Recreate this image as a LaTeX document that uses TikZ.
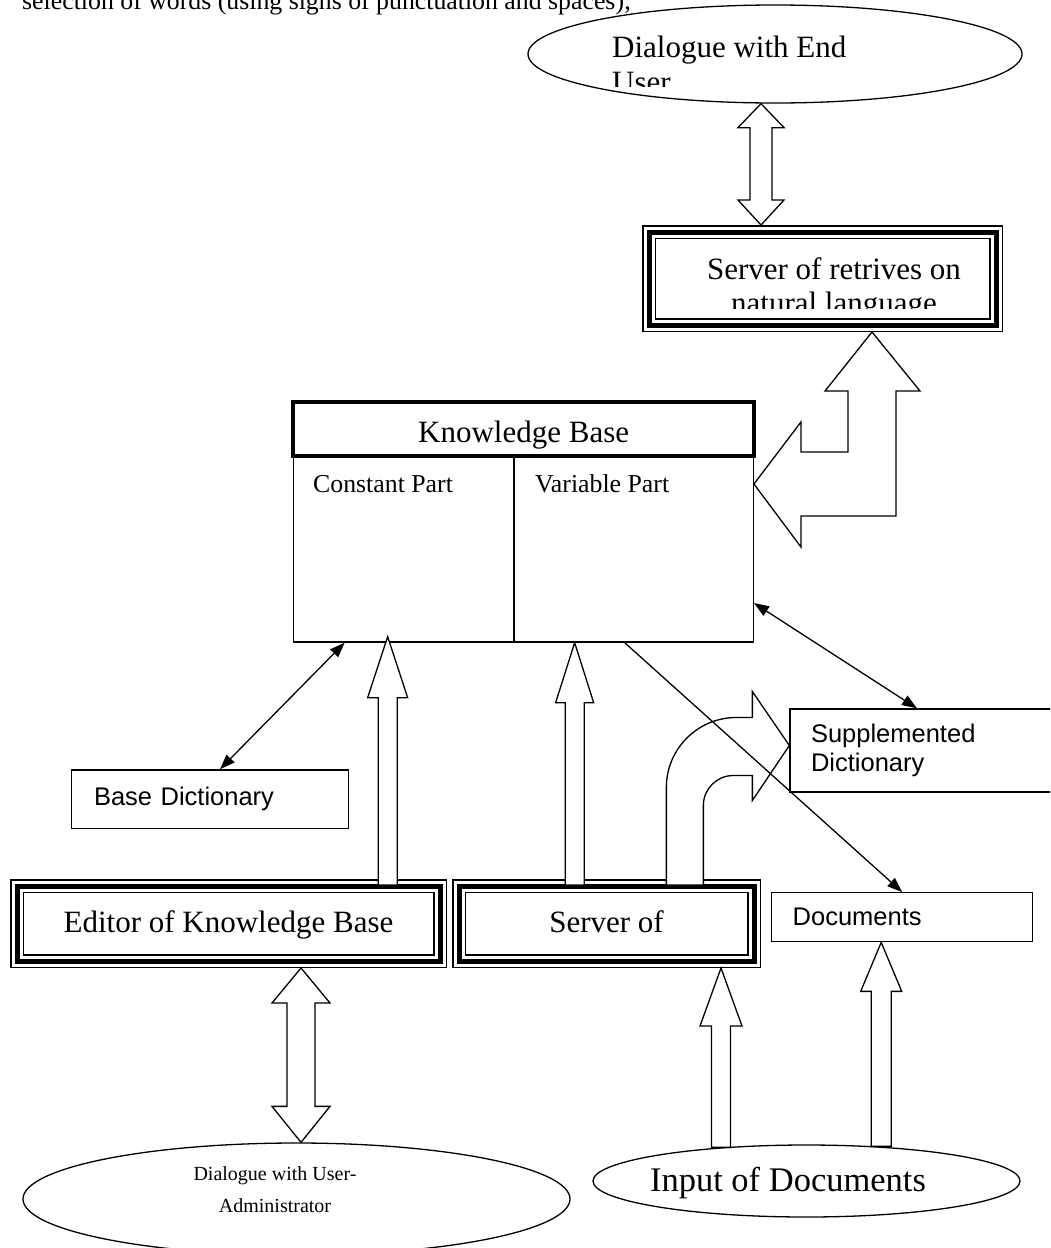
\documentclass[tikz,border=0pt]{standalone}
\usepackage{fontspec}
\setmainfont{Liberation Serif}
\newfontfamily\arialfont{Liberation Sans}
\usetikzlibrary{shapes, calc, arrows.meta}

\tikzset{
  bigtxt/.style={font=\fontsize{31}{35}\selectfont, inner sep=0pt},
  inputtxt/.style={font=\fontsize{34.5}{39}\selectfont, inner sep=0pt},
  midtxt/.style={font=\fontsize{25.8}{30}\selectfont, inner sep=0pt},
  admintxt/.style={font=\fontsize{20}{24}\selectfont, inner sep=0pt},
  sanstxt/.style={font=\arialfont\fontsize{25.5}{29}\selectfont},
  wire/.style={line width=1.3pt},
  frame/.style={draw, wire, rectangle, inner sep=0pt},
  triple/.style={draw, rectangle, line width=5pt, outer sep=7pt, inner sep=0pt,
    preaction={draw, line width=1.5pt, double, double distance=11pt}},
  oval/.style={draw, wire, ellipse, inner sep=0pt},
  hollow/.style={draw, wire, fill=white, line join=miter},
  link/.style={wire, {Triangle[length=15pt,width=11pt]}-{Triangle[length=15pt,width=11pt]}},
  onelink/.style={wire, -{Triangle[length=15pt,width=11pt]}}
}

\newcommand{\blockup}[5]{%
  \draw[hollow] let \p1=#1, \p2=#2 in
    (\x2-#3,\y1) -- (\x2-#3,\y2-#5) -- (\x2-#4,\y2-#5) -- (\x2,\y2)
    -- (\x2+#4,\y2-#5) -- (\x2+#3,\y2-#5) -- (\x2+#3,\y1) -- cycle;}
\newcommand{\blockboth}[6]{%
  \draw[hollow] let \p1=#1, \p2=#2 in
    (\x1,\y1) -- (\x1+#4,\y1-#5) -- (\x1+#3,\y1-#5) -- (\x1+#3,\y2+#6)
    -- (\x1+#4,\y2+#6) -- (\x1,\y2) -- (\x1-#4,\y2+#6) -- (\x1-#3,\y2+#6)
    -- (\x1-#3,\y1-#5) -- (\x1-#4,\y1-#5) -- cycle;}

\begin{document}
\begin{tikzpicture}[x=1pt, y=-1pt]
\useasboundingbox (0,0) rectangle (1050,1248);
\clip (0,0) rectangle (1050,1248);

\node[midtxt, anchor=base west] (toptxt) at (22,9) {selection of words (using signs of punctuation and spaces);};

\node[oval, minimum width=494pt, minimum height=98pt] (enduser) at (775,54) {};
\begin{scope}
\clip (600,20) rectangle (960,86);
\node[bigtxt, anchor=base west] (enduser1) at (612,57) {Dialogue with End};
\node[bigtxt, anchor=base west] (enduser2) at (612,92) {User};
\end{scope}

\node[triple, minimum width=347pt, minimum height=93pt] (retr) at (822.5,278.5) {};
\begin{scope}
\clip (656,239) rectangle (989,308);
\node[bigtxt, anchor=base] (retr1) at (834,279) {Server of retrives on};
\node[bigtxt, anchor=base] (retr2) at (834,313) {natural language};
\end{scope}

\node[draw, line width=4pt, minimum width=460.7pt, minimum height=54pt, bigtxt,
  text height=26pt, text depth=0pt] (kbhead) at (523.65,429) {Knowledge Base};
\node[frame, minimum width=220.7pt, minimum height=186pt] (constpart) at (403.65,549) {};
\node[frame, minimum width=239.3pt, minimum height=186pt] (varpart) at (633.65,549) {};
\node[midtxt, anchor=base west] (consttxt) at (313,492) {Constant Part};
\node[midtxt, anchor=base west] (vartxt) at (535,492) {Variable Part};

\node[frame, sanstxt, minimum width=276.6pt, minimum height=58.3pt, text width=232pt] (basedict) at (210,799) {Base Dictionary};
\node[frame, sanstxt, minimum width=280pt, minimum height=83pt, text width=238pt, align=left] (supp) at (930,750.5) {Supplemented\\Dictionary};
\node[frame, sanstxt, minimum width=261pt, minimum height=49pt, text width=219pt] (docs) at (902.2,917.2) {Documents};

\node[triple, bigtxt, minimum width=423pt, minimum height=75pt, text height=21pt, text depth=4pt] (editor) at (228.5,923.5) {Editor of Knowledge Base};
\node[triple, bigtxt, minimum width=295pt, minimum height=75pt, text height=21pt, text depth=4pt] (serverof) at (606.5,923.5) {Server of};

\node[oval, minimum width=547pt, minimum height=112pt] (admin) at (296.5,1199) {};
\node[admintxt, anchor=base] (admin1) at (275,1180) {Dialogue with User-};
\node[admintxt, anchor=base] (admin2) at (275,1212) {Administrator};

\node[oval, minimum width=427pt, minimum height=72pt] (inputdoc) at (806.5,1181) {};
\node[inputtxt, anchor=base] (inputtxt) at (788,1191) {Input of Documents};

\blockboth{([xshift=-14pt]enduser.south)}{(retr.north)}{11pt}{23pt}{24pt}{25pt}
\blockboth{([xshift=72.5pt]editor.south)}{(admin.north)}{14pt}{29pt}{35pt}{36pt}
\blockup{([yshift=-6pt]editor.north)}{([xshift=-16pt,yshift=6pt]constpart.south)}{9.5pt}{20pt}{61pt}
\blockup{([yshift=-6pt]serverof.north)}{([xshift=-59pt]varpart.south)}{9.5pt}{19pt}{60pt}
\blockup{([yshift=-3pt]inputdoc.north)}{([xshift=114.5pt]serverof.south)}{9.5pt}{21pt}{58pt}
\blockup{([yshift=-2pt]inputdoc.north)}{([xshift=-21pt]docs.south)}{10pt}{20.5pt}{49pt}

\draw[hollow] let \p1=([yshift=65pt]varpart.east), \p2=([xshift=49.5pt]retr.south) in
  (\x1,\y1) -- (\x1+47pt,\y1+62pt) -- (\x1+47pt,\y1+32pt) -- (\x2-24pt,\y1+32pt)
  -- (\x2-24pt,\y2-59pt) -- (\x2-47pt,\y2-59pt) -- (\x2,\y2) -- (\x2+48pt,\y2-59pt)
  -- (\x2+24pt,\y2-59pt) -- (\x2+24pt,\y1-32pt) -- (\x1+47pt,\y1-32pt)
  -- (\x1+47pt,\y1-63pt) -- cycle;

\draw[hollow] let \p1=([yshift=-6pt]serverof.north), \p2=([yshift=5pt]supp.west) in
  (\x2-123pt,\y1) -- (\x2-123pt,\y2-42pt) arc[start angle=180, end angle=90, radius=70pt]
  -- (\x2-37pt,\y2+28pt) -- (\x2-37pt,\y2+54pt) -- (\x2,\y2) -- (\x2-37pt,\y2-55pt)
  -- (\x2-37pt,\y2-30pt) -- (\x2-56pt,\y2-30pt) arc[start angle=90, end angle=180, radius=30pt]
  -- (\x2-86pt,\y1) -- cycle;

\draw[link] ([xshift=10pt]basedict.north) -- ([xshift=-59pt]constpart.south);
\draw[link] ([yshift=-54pt]varpart.east) -- ([xshift=-13pt]supp.north);
\draw[onelink] ([xshift=-9pt]varpart.south) -- (docs.north);
\end{tikzpicture}
\end{document}
